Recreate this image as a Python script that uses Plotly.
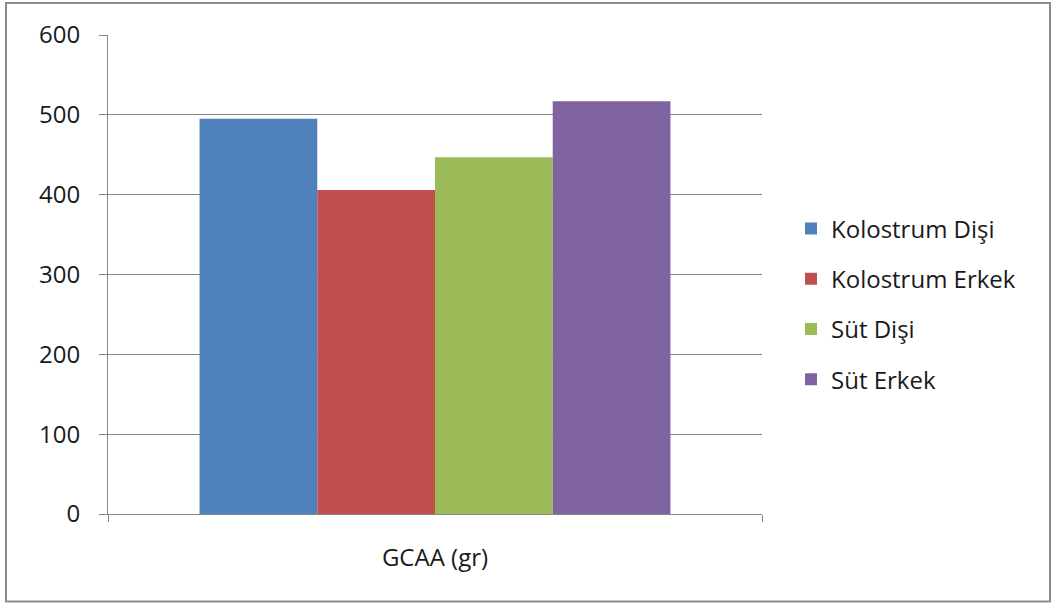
import plotly.graph_objects as go

categories = ["GCAA (gr)"]
series_names = ["Kolostrum Dişi", "Kolostrum Erkek", "Süt Dişi", "Süt Erkek"]
series_values = [[495], [406], [447], [517]]
colors = ["#4F81BD", "#C0504D", "#9BBB59", "#8064A2"]
y_ticks = [0, 100, 200, 300, 400, 500, 600]

W, H = 1051, 603
L, R, T, B = 108, 289, 35, 89
pw, ph = W - L - R, H - T - B

fig = go.Figure()
for i, (name, vals) in enumerate(zip(series_names, series_values)):
    fig.add_trace(go.Bar(
        x=categories, y=vals, name=name,
        marker=dict(color=colors[i], line=dict(width=0)),
        legendgroup=str(i),
    ))

font = "Open Sans, Noto Sans, sans-serif"

def px2x(px):
    return (px - L) / pw

def py2y(py):
    return (H - B - py) / ph

fig.add_shape(type="rect", xref="paper", yref="paper",
              x0=px2x(6), x1=px2x(1050), y0=py2y(601.5), y1=py2y(3),
              line=dict(color="#8C8C8C", width=2), layer="below")

fig.update_layout(
    width=W, height=H,
    margin=dict(l=L, r=R, t=T, b=B),
    paper_bgcolor="white", plot_bgcolor="white",
    barmode="group", bargap=0.28, bargroupgap=0,
    showlegend=True,
    legend=dict(x=px2x(791), xanchor="left", xref="paper", y=py2y(304), yanchor="middle",
                font=dict(family=font, size=24, color="#1a1a1a"),
                tracegroupgap=16, traceorder="grouped",
                itemwidth=30, bgcolor="rgba(0,0,0,0)"),
    xaxis=dict(showgrid=False, showline=True, linecolor="#868686", linewidth=1,
               ticks="outside", tickson="boundaries", ticklen=7, tickcolor="#868686",
               tickfont=dict(family=font, size=24, color="#1a1a1a"),
               ticklabelstandoff=22),
    yaxis=dict(range=[0, 600], tickvals=y_ticks, showgrid=True, gridcolor="#868686",
               gridwidth=1, showline=True, linecolor="#868686", linewidth=1,
               ticks="outside", ticklen=8, tickcolor="#868686",
               tickfont=dict(family=font, size=24, color="#1a1a1a"),
               ticklabelstandoff=14, zeroline=False),
)

fig.write_html("out.html")
